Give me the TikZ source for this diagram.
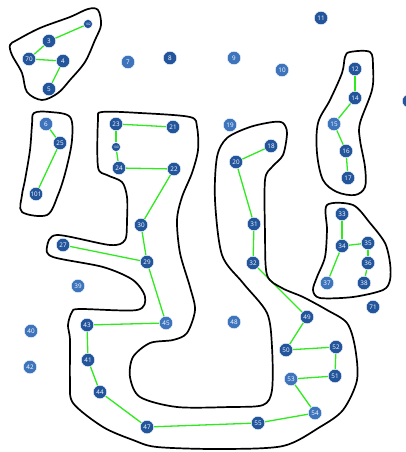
\documentclass[tikz,border=0pt]{standalone}
\usepackage{fontspec}
\setsansfont{Open Sans}
\usetikzlibrary{backgrounds}
\definecolor{cnode}{HTML}{22559C}
\definecolor{cnodelt}{HTML}{3D74BC}
\definecolor{cedge}{HTML}{2EEA1E}
\tikzset{
  every picture/.style={font=\sffamily},
  vtx/.style={circle, fill=cnode, draw=white, line width=0.4pt, text=white, inner sep=0pt,
    minimum size=13.5pt, font=\sffamily\fontsize{6.3}{6.3}\selectfont},
  vtxlt/.style={vtx, fill=cnodelt},
  vtxsm/.style={vtx, minimum size=9pt, font=\sffamily\fontsize{3.2}{4}\selectfont},
  link/.style={draw=cedge, line width=1.3pt},
  blob/.style={draw=black, line width=1.7pt, line join=round},
}

\begin{document}
\begin{tikzpicture}[x=1pt, y=-1pt]
  \useasboundingbox (0,0) rectangle (405,452);
  % dark vertices
  \foreach \n/\x/\y in {3/49/41, 70/29/59, 4/63/61, 5/49/89, 8/170/58, 11/321/18,
      12/355/69, 14/355/98, 16/346/151, 17/348/178, 25/60/143, 101/36/194,
      23/116/124, 21/173/127, 24/119/168, 22/174/169, 30/141/225, 18/271/146,
      20/236/162, 31/254/224, 32/253/263, 27/63/245, 29/147/262, 43/87/325,
      41/88/360, 44/100/392, 47/147/427, 49/307/317, 50/286/350, 52/336/347,
      51/335/376, 55/258/423, 33/342/214, 34/342/246, 35/368/243, 36/368/263,
      38/364/283, 71/373/307}
    \node[vtx] (n\n) at (\x,\y) {\n};
  % lighter vertices
  \foreach \n/\x/\y in {7/128/62, 9/234/58, 10/282/70, 15/334/124, 6/46/124,
      19/230/125, 39/78/286, 40/31/331, 42/30/367, 45/166/323, 48/234/322,
      53/291/379, 54/315/413, 37/327/283}
    \node[vtxlt] (n\n) at (\x,\y) {\n};
  % small vertices, and one cut by the right edge
  \node[vtxsm] (n102) at (88,24) {102};
  \node[vtxsm] (n100) at (116,147) {100};
  \node[vtx] (nedge) at (409,101) {};

  \begin{scope}[on background layer]
    % green links
    \foreach \a/\b in {3/102, 3/70, 70/4, 4/5, 6/25, 25/101, 23/21, 23/100, 100/24,
        24/22, 22/30, 30/29, 27/29, 29/45, 45/43, 43/41, 41/44, 44/47, 47/55,
        55/54, 54/53, 53/51, 51/52, 52/50, 50/49, 49/32, 32/31, 31/20, 20/18,
        12/14, 14/15, 15/16, 16/17, 33/34, 34/35, 35/36, 36/38, 34/37}
      \draw[link] (n\a) -- (n\b);

    % hand drawn groups
    \draw[blob] plot[smooth cycle, tension=0.55] coordinates {(17,40) (40,28) (70,17)
      (88,9) (98,10) (101,25) (95,40) (85,62) (70,80) (58,93) (42,100) (27,92)
      (22,73) (12,55) (10,45)};
    \draw[blob] plot[smooth cycle, tension=0.55] coordinates {(34,113) (50,112) (70,117)
      (72,140) (66,170) (58,195) (47,215) (22,212) (22,195) (25,180) (30,150) (32,125)};
    \draw[blob] plot[smooth cycle, tension=0.55] coordinates {(350,52) (370,52) (373,67)
      (372,90) (360,123) (360,140) (365,167) (365,187) (355,195) (337,192) (323,180)
      (317,153) (318,123) (330,100) (342,73) (345,57)};
    \draw[blob] plot[smooth cycle, tension=0.5] coordinates {(327,205) (353,205) (370,223)
      (385,243) (390,263) (390,280) (383,290) (353,297) (320,298) (313,290) (317,277)
      (325,257) (327,230)};
    \draw[blob] plot[smooth cycle, tension=0.5] coordinates {(273,122) (283,123) (287,133)
      (283,155) (272,167) (265,180) (265,233) (267,275) (282,288) (303,297) (327,310)
      (347,323) (355,347) (357,380) (343,410) (320,427) (283,446) (220,449) (157,447)
      (133,440) (103,427) (73,403) (70,380) (70,340) (68,325) (72,312) (80,309)
      (137,310) (145,297) (133,280) (103,267) (53,257) (47,247) (57,235) (110,245)
      (125,240) (127,220) (127,197) (122,182) (107,175) (98,167) (98,120) (102,112)
      (140,113) (190,117) (197,127) (198,150) (192,173) (182,197) (177,220) (180,253)
      (190,287) (195,310) (187,333) (173,340) (150,343) (133,357) (130,377) (140,397)
      (177,407) (230,407) (263,405) (272,390) (272,347) (267,313) (243,283) (222,255)
      (215,200) (217,157) (227,138) (250,127)};
  \end{scope}
\end{tikzpicture}
\end{document}
